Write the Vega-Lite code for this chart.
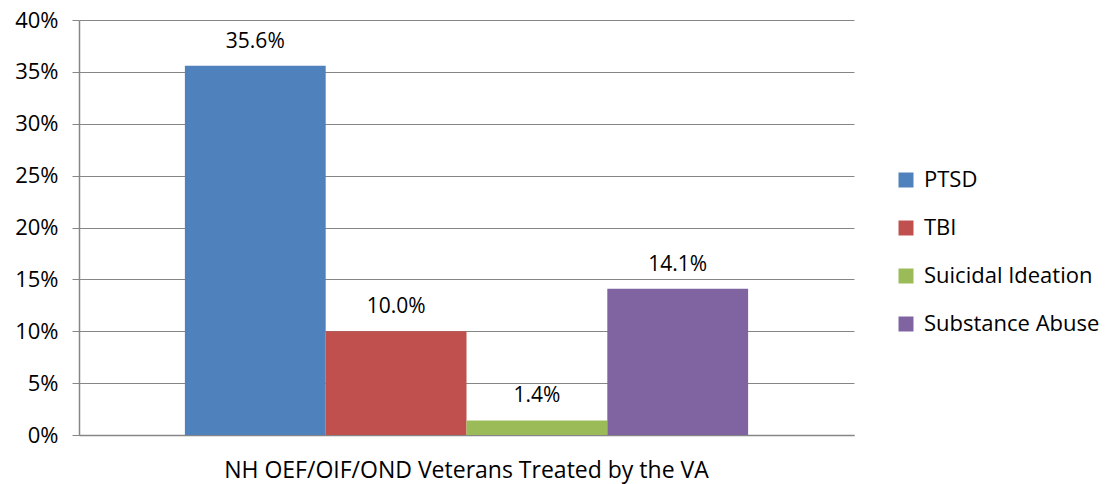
{
  "$schema": "https://vega.github.io/schema/vega-lite/v6.json",
  "width": 775,
  "height": 415,
  "autosize": {"type": "none"},
  "padding": {"left": 79, "top": 20, "right": 251, "bottom": 49},
  "background": "white",
  "config": {
    "font": "Open Sans",
    "view": {"stroke": null},
    "axis": {"labelFont": "Open Sans", "labelFontSize": 22, "labelColor": "#000000"}
  },
  "data": {
    "values": [
      {"group": "NH OEF/OIF/OND Veterans Treated by the VA", "series": "PTSD", "value": 0.356},
      {"group": "NH OEF/OIF/OND Veterans Treated by the VA", "series": "TBI", "value": 0.100},
      {"group": "NH OEF/OIF/OND Veterans Treated by the VA", "series": "Suicidal Ideation", "value": 0.014},
      {"group": "NH OEF/OIF/OND Veterans Treated by the VA", "series": "Substance Abuse", "value": 0.141}
    ]
  },
  "encoding": {
    "x": {
      "field": "group",
      "type": "nominal",
      "scale": {"paddingInner": 0, "paddingOuter": 0.188},
      "axis": {
        "title": null,
        "labelAngle": 0,
        "labelLimit": 0,
        "ticks": false,
        "labelPadding": 24,
        "domainColor": "#868686",
        "domainWidth": 1.5,
        "labelFontSize": 23
      }
    },
    "xOffset": {
      "field": "series",
      "type": "nominal",
      "sort": ["PTSD", "TBI", "Suicidal Ideation", "Substance Abuse"],
      "scale": {"paddingInner": 0, "paddingOuter": 0}
    },
    "y": {
      "field": "value",
      "type": "quantitative",
      "scale": {"domain": [0, 0.4], "nice": false},
      "axis": {
        "title": null,
        "format": ".0%",
        "values": [0, 0.05, 0.1, 0.15, 0.2, 0.25, 0.3, 0.35, 0.4],
        "grid": true,
        "gridColor": "#868686",
        "gridWidth": 1,
        "domainColor": "#868686",
        "domainWidth": 1.5,
        "tickColor": "#868686",
        "tickSize": 7,
        "labelPadding": 14
      }
    }
  },
  "layer": [
    {
      "mark": {"type": "bar"},
      "encoding": {
        "color": {
          "field": "series",
          "type": "nominal",
          "sort": ["PTSD", "TBI", "Suicidal Ideation", "Substance Abuse"],
          "scale": {
            "domain": ["PTSD", "TBI", "Suicidal Ideation", "Substance Abuse"],
            "range": ["#4F81BD", "#C0504D", "#9BBB59", "#8064A2"]
          },
          "legend": {
            "title": null,
            "orient": "none",
            "legendX": 816,
            "legendY": 149,
            "symbolType": "square",
            "symbolSize": 225,
            "symbolStrokeWidth": 0,
            "labelFontSize": 22,
            "labelFont": "Open Sans",
            "labelColor": "#000000",
            "labelLimit": 0,
            "rowPadding": 26,
            "labelOffset": 7
          }
        }
      }
    },
    {
      "mark": {"type": "text", "baseline": "alphabetic", "dy": -18, "fontSize": 21, "font": "Open Sans", "color": "#000000"},
      "encoding": {
        "text": {"field": "value", "type": "quantitative", "format": ".1%"}
      }
    }
  ]
}
